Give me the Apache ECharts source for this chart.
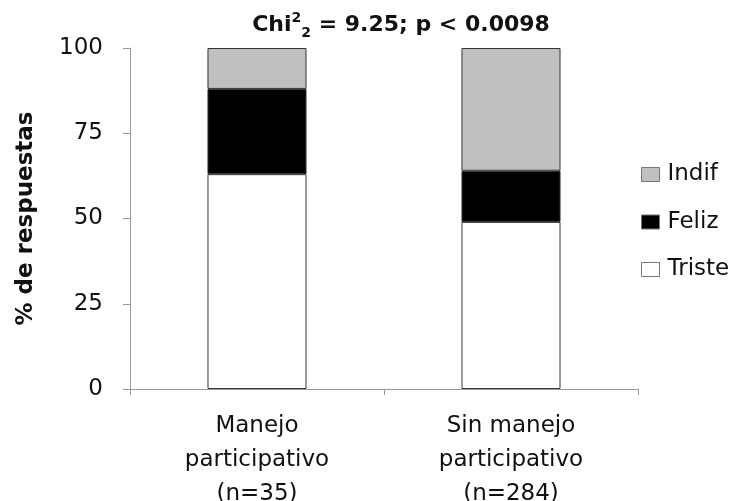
<!DOCTYPE html>
<html>
<head>
<meta charset="utf-8">
<script src="https://cdn.jsdelivr.net/npm/echarts@6/dist/echarts.min.js"></script>
<style>
  html, body { margin: 0; padding: 0; background: #fff; }
  #chart { width: 740px; height: 501px; }
</style>
</head>
<body>
<div id="chart"></div>
<script>
// Groups compared and share of answers (%) per mood
const categories = ['Manejo\nparticipativo\n(n=35)', 'Sin manejo\nparticipativo\n(n=284)'];
const triste = [63, 49];
const feliz = [25, 15];
const indif = [12, 36];
const yTicks = [0, 25, 50, 75, 100];

const font = 'DejaVu Sans';
const chart = echarts.init(document.getElementById('chart'));

function stackSeries(name, data, color) {
  return {
    name: name,
    type: 'bar',
    stack: 'total',
    data: data,
    barWidth: '39%',
    itemStyle: { color: color, borderColor: '#333', borderWidth: 1 },
    emphasis: { disabled: true }
  };
}

chart.setOption({
  animation: false,
  backgroundColor: '#fff',
  title: {
    text: '{b|Chi}{sup|2}{sub|2}{b| = 9.25; p < 0.0098}',
    left: 396,
    textAlign: 'center',
    top: 1,
    textStyle: {
      rich: {
        b: { fontFamily: font, fontWeight: 'bold', fontSize: 22, color: '#111', verticalAlign: 'bottom', lineHeight: 30 },
        sup: { fontFamily: font, fontWeight: 'bold', fontSize: 14, color: '#111', padding: [0, 0, 11, 0], verticalAlign: 'bottom', lineHeight: 30 },
        sub: { fontFamily: font, fontWeight: 'bold', fontSize: 14, color: '#111', padding: [0, 0, -4, 0], verticalAlign: 'bottom', lineHeight: 30 }
      }
    }
  },
  legend: {
    orient: 'vertical',
    left: 641,
    top: 163,
    padding: 0,
    itemWidth: 18,
    itemHeight: 14,
    itemGap: 24.5,
    icon: 'rect',
    data: ['Indif', 'Feliz', 'Triste'],
    textStyle: { fontFamily: font, fontSize: 23, color: '#111', padding: [0, 0, 0, 3] },
    itemStyle: { borderColor: '#777', borderWidth: 1 }
  },
  grid: { left: 130, right: 102, top: 48, bottom: 112, outerBoundsMode: 'none' },
  xAxis: {
    type: 'category',
    data: categories,
    axisLine: { lineStyle: { color: '#999' } },
    axisTick: { show: true, length: 6, lineStyle: { color: '#999' } },
    axisLabel: { fontFamily: font, fontSize: 23, color: '#111', lineHeight: 34, margin: 20 }
  },
  yAxis: {
    type: 'value',
    min: 0,
    max: 100,
    interval: 25,
    name: '% de respuestas',
    nameLocation: 'middle',
    nameGap: 92,
    nameTextStyle: { fontFamily: font, fontSize: 23, fontWeight: 'bold', color: '#111' },
    axisLine: { show: true, lineStyle: { color: '#999' } },
    axisTick: { show: true, length: 7, lineStyle: { color: '#999' } },
    splitLine: { show: false },
    axisLabel: {
      fontFamily: font, fontSize: 23, color: '#111', margin: 27,
      formatter: v => yTicks.includes(v) ? String(v) : ''
    }
  },
  series: [
    stackSeries('Triste', triste, '#ffffff'),
    stackSeries('Feliz', feliz, '#000000'),
    stackSeries('Indif', indif, '#c0c0c0')
  ]
});
</script>
</body>
</html>
